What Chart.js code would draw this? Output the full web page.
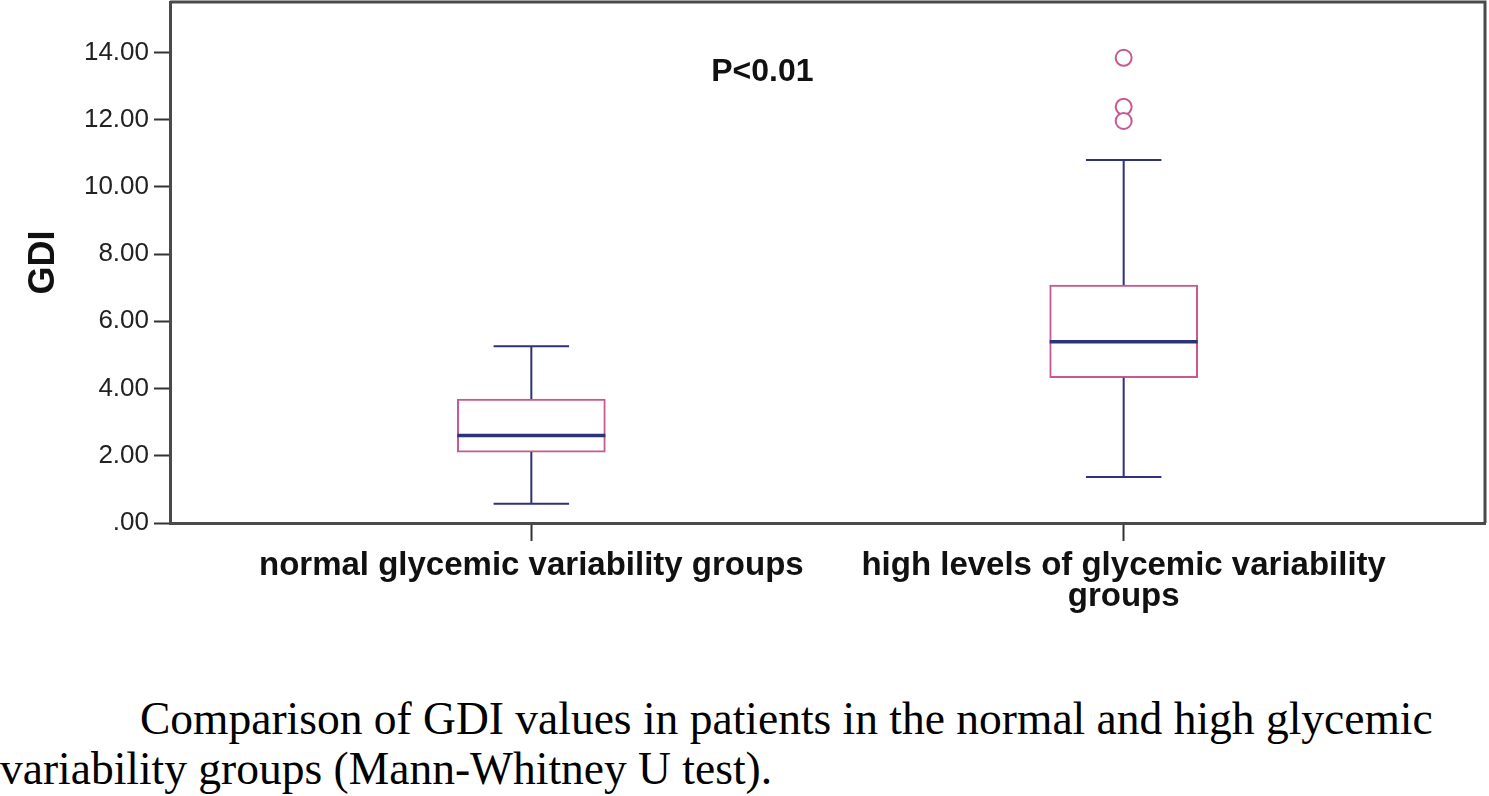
<!DOCTYPE html>
<html>
<head>
<meta charset="utf-8">
<script src="https://cdn.jsdelivr.net/npm/chart.js@4.4.0/dist/chart.umd.min.js"></script>
<style>
  html, body { margin: 0; padding: 0; background: #fff; }
  #wrap { position: relative; width: 1489px; height: 796px; overflow: hidden; }
  #chartBox { position: absolute; left: 0; top: 0; width: 1489px; height: 640px; }
  .cap { position: absolute; font-family: "Liberation Serif", "Times New Roman", serif; font-size: 45.5px; color: #000; white-space: nowrap; }
</style>
</head>
<body>
<div id="wrap">
  <div id="chartBox"><canvas id="c" width="1489" height="640"></canvas></div>
  <div class="cap" id="cap1" style="left:140px; top:692px;">Comparison of GDI values in patients in the normal and high glycemic</div>
  <div class="cap" id="cap2" style="left:0px; top:742px;">variability groups (Mann-Whitney U test).</div>
</div>
<script>
// ---- data ----
const categories = [["normal glycemic variability groups"], ["high levels of glycemic variability", "groups"]];
const positions = [1, 2];
const whiskerLow = [0.57, 1.37];
const q1 = [2.11, 4.32];
const median = [2.60, 5.39];
const q3 = [3.69, 7.08];
const whiskerHigh = [5.26, 10.80];
const outlierGroup = [2, 2, 2];
const outlierValues = [13.84, 12.38, 11.96];
const yTicks = [0, 2, 4, 6, 8, 10, 12, 14];
const annotationText = "P<0.01";

const BOX_COLOR = "#c8588f";
const WHISKER_COLOR = "#2e3278";
const AXIS_COLOR = "#4a4a4a";

const boxPlugin = {
  id: "boxExtras",
  afterDatasetsDraw(chart) {
    const ctx = chart.ctx;
    const xs = chart.scales.x, ys = chart.scales.y;
    const boxMeta = chart.getDatasetMeta(0);
    ctx.save();
    positions.forEach((p, i) => {
      const cx = xs.getPixelForValue(p);
      const bar = boxMeta.data[i];
      const halfBox = bar.width / 2;
      const halfCap = halfBox * 0.51;
      ctx.strokeStyle = WHISKER_COLOR;
      ctx.lineWidth = 2;
      ctx.beginPath();
      ctx.moveTo(cx, ys.getPixelForValue(q1[i]));
      ctx.lineTo(cx, ys.getPixelForValue(whiskerLow[i]));
      ctx.moveTo(cx - halfCap, ys.getPixelForValue(whiskerLow[i]));
      ctx.lineTo(cx + halfCap, ys.getPixelForValue(whiskerLow[i]));
      ctx.moveTo(cx, ys.getPixelForValue(q3[i]));
      ctx.lineTo(cx, ys.getPixelForValue(whiskerHigh[i]));
      ctx.moveTo(cx - halfCap, ys.getPixelForValue(whiskerHigh[i]));
      ctx.lineTo(cx + halfCap, ys.getPixelForValue(whiskerHigh[i]));
      ctx.stroke();
      ctx.lineWidth = 3.5;
      ctx.beginPath();
      ctx.moveTo(cx - halfBox, ys.getPixelForValue(median[i]));
      ctx.lineTo(cx + halfBox, ys.getPixelForValue(median[i]));
      ctx.stroke();
    });
    const a = chart.chartArea;
    ctx.strokeStyle = AXIS_COLOR;
    ctx.lineWidth = 3;
    ctx.beginPath();
    ctx.moveTo(a.left, a.top);
    ctx.lineTo(a.right, a.top);
    ctx.lineTo(a.right, a.bottom);
    ctx.stroke();
    ctx.fillStyle = "#111";
    ctx.font = "bold 32px 'Liberation Sans', Arial, sans-serif";
    ctx.textAlign = "center";
    ctx.textBaseline = "middle";
    ctx.fillText(annotationText, xs.getPixelForValue(1.39), ys.getPixelForValue(13.4));
    ctx.restore();
  }
};

const ctx = document.getElementById("c").getContext("2d");
new Chart(ctx, {
  type: "bar",
  data: {
    datasets: [
      {
        type: "bar",
        data: positions.map((p, i) => ({ x: p, y: [q1[i], q3[i]] })),
        backgroundColor: "#ffffff",
        borderColor: BOX_COLOR,
        borderWidth: 2,
        borderSkipped: false,
        barThickness: 148,
        order: 2
      },
      {
        type: "scatter",
        data: outlierGroup.map((g, i) => ({ x: g, y: outlierValues[i] })),
        pointStyle: "circle",
        pointRadius: 8,
        pointBorderWidth: 2,
        pointBackgroundColor: "#ffffff",
        pointBorderColor: BOX_COLOR,
        order: 1
      }
    ]
  },
  options: {
    responsive: false,
    animation: false,
    events: [],
    layout: { autoPadding: false, padding: { top: 2, right: 4, left: 0, bottom: 0 } },
    plugins: { legend: { display: false }, tooltip: { enabled: false } },
    scales: {
      x: {
        type: "linear",
        offset: false,
        min: 0.39,
        max: 2.61,
        afterBuildTicks(scale) { scale.ticks = positions.map(v => ({ value: v })); },
        afterFit(scale) { scale.height = 640 - 523; scale.paddingLeft = 0; scale.paddingRight = 0; },
        ticks: {
          autoSkip: false,
          maxRotation: 0,
          padding: 10,
          color: "#111",
          font: { family: "'Liberation Sans', Arial, sans-serif", size: 33, weight: "bold", lineHeight: 0.92 },
          callback(v) { const i = positions.indexOf(v); return i >= 0 ? categories[i] : ""; }
        },
        grid: { offset: false, drawOnChartArea: false, drawTicks: true, tickLength: 18, tickColor: "#333", tickWidth: 2 },
        border: { display: true, color: AXIS_COLOR, width: 3 }
      },
      y: {
        min: 0,
        max: 15.5,
        afterBuildTicks(scale) { scale.ticks = yTicks.map(v => ({ value: v })); },
        afterFit(scale) { scale.width = 170; scale.paddingTop = 0; scale.paddingBottom = 0; },
        title: {
          display: true,
          text: "GDI",
          color: "#111",
          font: { family: "'Liberation Sans', Arial, sans-serif", size: 36, weight: "bold" },
          padding: { top: 22, bottom: 0 }
        },
        ticks: {
          padding: 5,
          color: "#222",
          font: { family: "'Liberation Sans', Arial, sans-serif", size: 26 },
          callback(v) { return v === 0 ? ".00" : v.toFixed(2); }
        },
        grid: { drawOnChartArea: false, drawTicks: true, tickLength: 16, tickColor: "#333", tickWidth: 2 },
        border: { display: true, color: AXIS_COLOR, width: 3 }
      }
    }
  },
  plugins: [boxPlugin]
});
</script>
</body>
</html>
